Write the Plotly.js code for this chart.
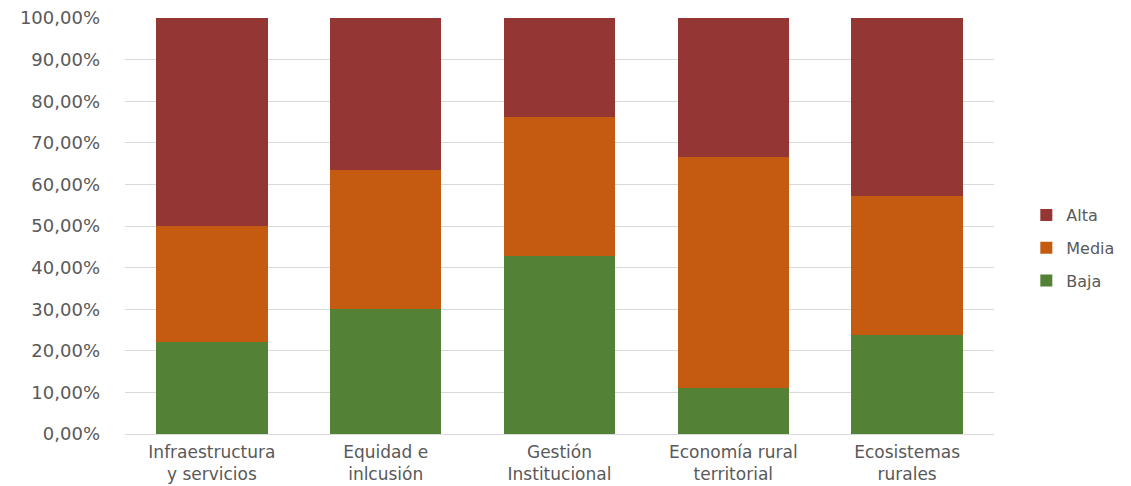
<!DOCTYPE html>
<html>
<head>
<meta charset="utf-8">
<script src="https://cdn.plot.ly/plotly-3.0.1.min.js"></script>
<style>html,body{margin:0;padding:0;background:#fff;}#chart{width:1131px;height:486px;}</style>
</head>
<body>
<div id="chart"></div>
<script>
const categories = ["Infraestructura<br>y servicios", "Equidad e<br>inlcusión", "Gestión<br>Institucional", "Economía rural<br>territorial", "Ecosistemas<br>rurales"];
const baja = [0.222, 0.300, 0.429, 0.111, 0.238];
const media = [0.278, 0.335, 0.333, 0.556, 0.333];
const alta = [0.500, 0.365, 0.238, 0.333, 0.429];
const tickVals = [0, 0.1, 0.2, 0.3, 0.4, 0.5, 0.6, 0.7, 0.8, 0.9, 1.0];

const traces = [
  {type: 'bar', name: 'Baja', legendgroup: 'b', legendrank: 3, x: categories, y: baja, marker: {color: '#538135'}},
  {type: 'bar', name: 'Media', legendgroup: 'm', legendrank: 2, x: categories, y: media, marker: {color: '#C55A11'}},
  {type: 'bar', name: 'Alta', legendgroup: 'a', legendrank: 1, x: categories, y: alta, marker: {color: '#943634'}}
];

const layout = {
  width: 1131, height: 486,
  barmode: 'stack',
  bargap: 0.36,
  separators: ',.',
  margin: {l: 125, r: 136, t: 18, b: 52},
  paper_bgcolor: '#ffffff',
  plot_bgcolor: '#ffffff',
  font: {family: 'DejaVu Sans, sans-serif', size: 17, color: '#595959'},
  xaxis: {
    tickfont: {size: 17, color: '#595959'},
    showline: false, ticks: '', showgrid: false,
    ticklabelstandoff: 6
  },
  yaxis: {
    range: [0, 1.0],
    tickvals: tickVals,
    tickformat: '.2%',
    tickfont: {size: 18, color: '#595959'},
    gridcolor: '#d9d9d9', gridwidth: 1,
    zeroline: true, zerolinecolor: '#d9d9d9', zerolinewidth: 1,
    showline: false, ticks: '', ticklen: 0,
    ticklabelstandoff: 24,
    automargin: false
  },
  legend: {
    x: 1.036, y: 0.447, xanchor: 'left', yanchor: 'middle',
    traceorder: 'grouped',
    font: {size: 16, color: '#595959'},
    itemsizing: 'constant',
    tracegroupgap: 9
  },
  showlegend: true
};

Plotly.newPlot('chart', traces, layout, {displayModeBar: false, staticPlot: true});
</script>
</body>
</html>
